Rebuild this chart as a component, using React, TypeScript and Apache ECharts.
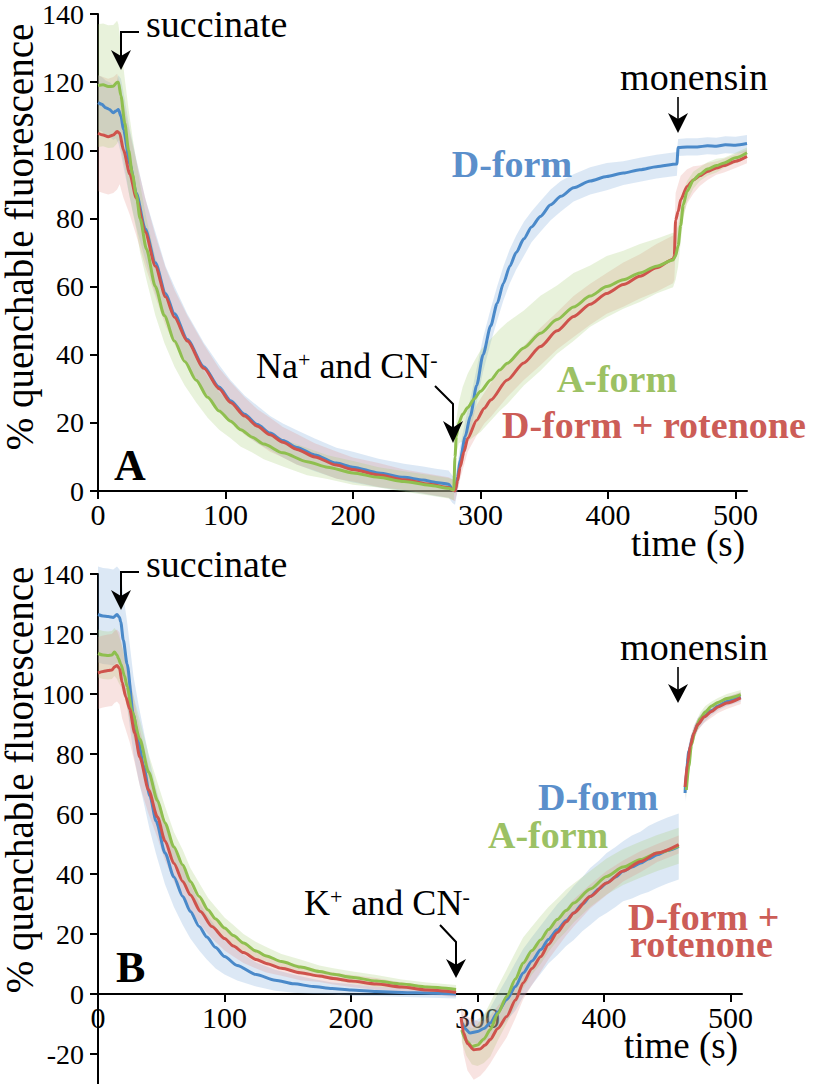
import React, { useEffect, useRef } from "react";
import * as echarts from "echarts";

// Each point: [time (s), % quenchable fluorescence, half-width of the shaded band]
type Pt = [number, number, number];

// ---------- Panel A ----------
const aBlue: Pt[] = [
  [0, 114, 8], [3, 113.5, 8], [6, 112.5, 8], [9, 112, 8], [12, 111, 8], [14, 111.5, 8], [16, 112, 10],
  [18, 110, 11], [20, 106, 11], [25, 96, 10], [30, 87.5, 10], [37, 77, 9], [45, 67, 9], [53, 58, 8],
  [60, 52, 8], [70, 44.5, 7.5], [83, 36.5, 7], [95, 30.5, 6.5], [104, 26.5, 6], [115, 22.5, 5.5],
  [125, 19.5, 5.5], [135, 17, 5], [145, 14.8, 5], [156, 12.8, 5], [170, 10.6, 4.8], [187, 8.2, 4.5],
  [200, 7, 4.5], [220, 5.3, 4.2], [240, 4, 4], [255, 3.2, 4], [265, 2.5, 4], [275, 2, 4], [278, 0.5, 4],
  [280, 0, 4], [282, 4, 4], [284, 9, 4], [288, 16, 4.5], [292, 22, 5], [297, 31, 5], [302, 40, 5],
  [308, 48.5, 5], [313, 55, 5], [318, 61, 5], [323, 66, 5], [328, 70, 5], [334, 74, 5], [340, 77.5, 4.5],
  [347, 80.6, 4.5], [355, 84, 4.5], [363, 86.5, 4.5], [373, 89, 4], [386, 91, 4], [399, 92.3, 4],
  [412, 93.3, 3.5], [425, 94.3, 3.5], [438, 95.2, 3.5], [454, 96, 3.5], [455, 100.8, 2.5], [462, 101, 2.5],
  [470, 101, 2.5], [478, 101.3, 2.5], [485, 101.2, 2.5], [492, 101.6, 2.5], [500, 101.5, 2.5], [509, 102, 2.5],
];
const aGreen: Pt[] = [
  [0, 119, 18], [4, 119.2, 18], [8, 118.7, 18], [12, 118.8, 18], [15, 120, 18], [16, 120, 17],
  [18, 116, 15], [21, 108, 13], [24, 100, 12], [27, 93, 11], [30, 87, 10], [33, 80, 10], [38, 71, 9],
  [45, 60, 8.5], [52, 51.5, 8], [60, 44, 7.5], [68, 38, 7], [77, 32.5, 6.5], [86, 27.5, 6], [95, 23.5, 5.5],
  [104, 20.5, 5], [112, 18, 5], [121, 15.8, 4.5], [130, 13.8, 4.5], [145, 11.2, 4], [164, 8.6, 4],
  [180, 7, 3.5], [200, 5.3, 3.5], [220, 4, 3], [240, 2.8, 3], [260, 1.7, 3], [275, 0.8, 3], [279, 0.3, 3],
  [280, 10, 4], [281, 16, 5], [283, 20, 6], [286, 22.5, 8], [290, 24.5, 10], [295, 27, 11], [300, 29.3, 12],
  [308, 32.6, 12], [315, 35.5, 12], [321, 37.5, 12], [334, 42, 11], [347, 46.3, 11], [360, 50.3, 10],
  [373, 54, 10], [386, 57.2, 9], [399, 60, 9], [412, 62, 8.5], [425, 64, 8.5], [438, 66, 8], [451, 67.8, 8],
  [453, 69, 7], [455, 72, 6], [457, 78, 5], [459, 84, 4], [462, 88, 3], [467, 91.3, 2.5], [472, 93, 2],
  [478, 94.5, 2], [485, 95.5, 2], [491, 96.3, 1.5], [500, 97.8, 1.5], [509, 99.3, 1.5],
];
const aRed: Pt[] = [
  [0, 105, 17], [4, 104.5, 17], [8, 104, 17], [12, 104.5, 17], [15, 105.5, 17], [17, 105, 15],
  [20, 100, 14], [25, 93, 12], [30, 86, 11], [37, 76, 10], [45, 66, 9], [53, 57, 8.5], [60, 51, 8],
  [70, 44, 7.5], [83, 36, 7], [95, 30, 6], [104, 26, 6], [115, 22, 5.5], [125, 19, 5], [135, 16.5, 5],
  [145, 14.3, 4.5], [156, 12.2, 4.5], [170, 10, 4], [187, 7.6, 4], [200, 6.3, 3.5], [220, 4.7, 3.5],
  [240, 3.3, 3], [260, 2, 3], [275, 1, 3], [279, 0.2, 3], [280, 0, 3], [282, 3, 3], [284, 7, 3.5],
  [287, 11.5, 4], [290, 15.5, 4], [297, 20.8, 4.5], [303, 24.3, 4.5], [308, 26.7, 5], [321, 32.6, 5],
  [334, 37.6, 5], [347, 42.4, 5.5], [360, 47, 5.5], [373, 51.2, 6], [386, 54.8, 6], [399, 58, 6],
  [412, 60.6, 6.5], [425, 63, 6.5], [438, 65.5, 7], [451, 68, 7], [452, 69, 7], [453, 79.5, 8],
  [455, 82, 8], [457, 85.5, 7], [462, 89.4, 5], [467, 91.3, 4], [472, 92.5, 3], [478, 93.8, 2.5],
  [485, 94.8, 2], [491, 95.5, 2], [500, 96.8, 2], [509, 98.2, 2],
];

// ---------- Panel B ----------
const bBlue1: Pt[] = [
  [0, 126.5, 16], [4, 126, 16], [8, 125.8, 16], [12, 125.5, 16], [15, 126.5, 16], [17, 125.5, 16],
  [18, 124, 16], [20, 118, 15], [23, 110, 14], [28, 93, 13], [32, 84, 12.5], [36, 76, 12], [41, 66, 11.5],
  [46, 57.5, 11], [53, 47, 10.5], [60, 39, 10], [67, 32.5, 9.5], [73, 27.5, 9], [80, 22.5, 8], [86, 19, 7.5],
  [93, 15.5, 7], [100, 12.5, 6], [110, 9.5, 5], [125, 6.5, 4], [140, 4.6, 3.5], [155, 3.4, 3], [170, 2.5, 2.5],
  [185, 1.8, 2], [200, 1.3, 2], [220, 0.8, 1.5], [250, 0.4, 1.5], [283, 0, 1.5],
];
const bBlue2: Pt[] = [
  [288, -9.7, 3], [290, -11.5, 3], [294, -13, 3.5], [300, -12.5, 4], [305, -11.5, 4.5], [310, -9.7, 5],
  [316, -6, 6], [323, -1.9, 7], [330, 2.5, 8], [336, 7, 8], [343, 11, 8], [350, 14.8, 8], [356, 18.2, 8],
  [363, 21.4, 8.5], [370, 24.5, 8.5], [376, 27, 9], [383, 30, 9], [389, 32.5, 9.5], [396, 35, 9.5],
  [402, 37, 10], [409, 39, 10], [415, 40.9, 10], [422, 42.3, 10.5], [429, 43.7, 10.5], [435, 45, 11],
  [442, 46.4, 11], [450, 47.8, 11], [459, 49.2, 11],
];
const bBlue3: Pt[] = [
  [464, 67, 3], [465, 74, 3], [467, 81, 2.5], [471, 87, 2], [474, 90, 2], [479, 92.5, 2], [485, 94.5, 1.5],
  [490, 96, 1.5], [497, 97.5, 1.5], [508, 99, 1.5],
];
const bGreen1: Pt[] = [
  [0, 113.5, 8], [4, 113, 8], [8, 112.8, 8], [11, 113, 8], [13, 114, 8], [15, 113, 8], [16, 112, 8],
  [18, 110, 7.5], [21, 106, 7], [23, 102.5, 7], [27, 94, 7], [33, 85, 6.5], [40, 74, 6], [47, 64.5, 6],
  [53, 57, 5.5], [60, 49, 5], [67, 43, 5], [73, 37.5, 4.5], [80, 32.5, 4.5], [87, 28, 4], [93, 25, 4],
  [100, 22, 3.5], [107, 19.5, 3.5], [115, 17, 3], [125, 14.3, 3], [133, 12.7, 3], [145, 10.8, 2.5],
  [160, 9, 2.5], [175, 7.5, 2], [186, 6.6, 2], [200, 5.6, 2], [220, 4.3, 2], [240, 3.3, 1.5], [260, 2.3, 1.5],
  [283, 1.5, 1.5],
];
const bGreen2: Pt[] = [
  [287.5, -12, 4], [291, -15.5, 5], [295.6, -17.5, 6], [300, -17, 7], [305, -15, 8], [310, -11.9, 9],
  [316, -6.5, 9], [323, -0.8, 9], [330, 5, 9], [336, 10.3, 8.5], [343, 14.5, 8], [350, 18.1, 8],
  [356, 21.5, 7.5], [363, 24.8, 7], [370, 27.8, 7], [376, 30.3, 6.5], [389, 35, 6], [402, 39.2, 6],
  [415, 42.3, 6], [429, 44.8, 6], [442, 47, 6], [459, 49.4, 6],
];
const bGreen3: Pt[] = [
  [465, 68, 3], [467, 76, 3], [469, 83, 2.5], [472, 88, 2], [476, 91.8, 2], [480, 94, 2], [485, 96, 1.5],
  [490, 97.2, 1.5], [497, 98.5, 1.5], [508, 99.8, 1.5],
];
const bRed1: Pt[] = [
  [0, 107, 12], [4, 107.5, 12], [8, 107.8, 12], [11, 108, 12], [13, 109, 12], [15, 109.5, 12], [17, 108.5, 12],
  [19, 104, 12], [22, 99, 11], [25, 95, 11], [29, 87, 10], [33, 79, 9.5], [40, 68, 8], [47, 59, 7],
  [53, 51, 6.5], [60, 43.5, 6], [67, 37.5, 5.5], [73, 33, 5], [81, 27.5, 4.5], [90, 22.5, 4], [100, 18.5, 4],
  [107, 16, 3.5], [115, 13.8, 3.5], [125, 11.5, 3], [133, 10.2, 3], [145, 8.6, 2.5], [160, 7.1, 2.5],
  [175, 6, 2], [186, 5.2, 2], [200, 4.3, 2], [220, 3.3, 2], [240, 2.3, 1.5], [260, 1.3, 1.5], [283, 0.5, 1.5],
];
const bRed2: Pt[] = [
  [287, -8, 4], [289, -13, 7], [292, -16.5, 9], [297, -18.6, 10], [302, -18.3, 9], [306, -17, 8.5],
  [310, -15.2, 8], [316, -11.5, 7.5], [323, -7.5, 7], [330, -2, 6], [336, 3.7, 5.5], [343, 8.5, 5.5],
  [350, 12.5, 5], [356, 16.5, 5], [363, 20.5, 5], [370, 24, 4.5], [376, 27, 4.5], [389, 32.5, 4],
  [402, 37, 4], [415, 41, 3.5], [429, 44.2, 3.5], [442, 47, 3], [459, 49.8, 3],
];
const bRed3: Pt[] = [
  [464, 69, 4], [466, 77, 3.5], [468, 82.5, 3], [471, 87, 2.5], [474, 89.8, 2], [479, 92.3, 2],
  [485, 94.2, 2], [490, 95.7, 2], [497, 97, 2], [508, 98.7, 2],
];

// Axis settings
const xMin = 0;
const xMax = 509;
const xInterval = 100;
const aYMin = 0;
const aYMax = 140;
const bYMin = -40;
const bYMax = 140;
const yInterval = 20;

const COLORS = {
  blue: { line: "#4a89c9", band: "rgba(110,160,215,0.24)", label: "#5b8fcb" },
  green: { line: "#8fbf4f", band: "rgba(165,205,115,0.26)", label: "#9cc164" },
  red: { line: "#cf534c", band: "rgba(225,140,130,0.24)", label: "#cc5d57" },
};

const FONT = "'Liberation Serif', 'Times New Roman', Times, serif";

// grid geometry (px)
const GRID_A = { left: 98, top: 14, width: 649, height: 477 };
const GRID_B = { left: 98, top: 574, width: 644, height: 540 };
// B x-axis sits on the zero line: move it up from the grid bottom
const bZeroOffset = -(GRID_B.height * (0 - bYMin)) / (bYMax - bYMin);

type SeriesDef = { segs: Pt[][]; color: keyof typeof COLORS };
const panelA: SeriesDef[] = [
  { segs: [aBlue], color: "blue" },
  { segs: [aRed], color: "red" },
  { segs: [aGreen], color: "green" },
];
const panelB: SeriesDef[] = [
  { segs: [bBlue1, bBlue2, bBlue3], color: "blue" },
  { segs: [bGreen1, bGreen2, bGreen3], color: "green" },
  { segs: [bRed1, bRed2, bRed3], color: "red" },
];

function bandSeries(seg: Pt[], fill: string, idx: number) {
  return {
    type: "custom",
    xAxisIndex: idx,
    yAxisIndex: idx,
    silent: true,
    z: 1,
    data: [[seg[0][0], seg[0][1]]],
    renderItem: (_params: any, api: any) => {
      const upper = seg.map((p) => api.coord([p[0], p[1] + p[2]]));
      const lower = seg.map((p) => api.coord([p[0], p[1] - p[2]])).reverse();
      return {
        type: "polygon",
        shape: { points: upper.concat(lower) },
        style: { fill, stroke: "none" },
      };
    },
  };
}

function lineSeries(seg: Pt[], color: string, idx: number, z: number) {
  return {
    type: "line",
    xAxisIndex: idx,
    yAxisIndex: idx,
    silent: true,
    z,
    data: seg.map((p) => [p[0], p[1]]),
    showSymbol: false,
    symbol: "none",
    smooth: 0.25,
    smoothMonotone: "x",
    lineStyle: { color, width: 3 },
  };
}

function buildSeries(defs: SeriesDef[], idx: number) {
  const out: any[] = [];
  defs.forEach((d) => d.segs.forEach((s) => out.push(bandSeries(s, COLORS[d.color].band, idx))));
  defs.forEach((d, k) => d.segs.forEach((s) => out.push(lineSeries(s, COLORS[d.color].line, idx, 3 + k))));
  return out;
}

function xAxis(idx: number, offset: number) {
  return {
    type: "value",
    gridIndex: idx,
    position: "bottom",
    offset,
    min: xMin,
    max: xMax,
    interval: xInterval,
    axisLine: { show: true, onZero: false, lineStyle: { color: "#000", width: 2 } },
    axisTick: { show: true, inside: false, length: 8, lineStyle: { color: "#000", width: 2 } },
    axisLabel: { color: "#000", fontFamily: FONT, fontSize: 30, margin: 8, showMaxLabel: false },
    splitLine: { show: false },
  };
}

function yAxis(idx: number, min: number, max: number, showMin: boolean) {
  return {
    type: "value",
    gridIndex: idx,
    min,
    max,
    interval: yInterval,
    axisLine: { show: true, onZero: false, lineStyle: { color: "#000", width: 2 } },
    axisTick: { show: true, inside: false, length: 8, lineStyle: { color: "#000", width: 2 } },
    axisLabel: { color: "#000", fontFamily: FONT, fontSize: 28, margin: 14, showMinLabel: showMin },
    splitLine: { show: false },
  };
}

function txt(x: number, y: number, text: string, opts: any = {}) {
  const align = opts.align || "left";
  return {
    type: "text",
    x,
    y,
    rotation: opts.rotation || 0,
    z: 50,
    style: {
      text,
      fill: opts.fill || "#000",
      fontSize: opts.fontSize || 36,
      fontFamily: FONT,
      fontWeight: opts.bold ? "bold" : "normal",
      align,
      textAlign: align,
      verticalAlign: "middle",
      textVerticalAlign: "middle",
      rich: opts.rich,
    },
  };
}

function arrowDown(points: number[][], tipX: number, tipY: number, w: number, h: number, lw: number) {
  return [
    { type: "polyline", z: 50, shape: { points }, style: { stroke: "#000", lineWidth: lw, fill: "none" } },
    {
      type: "polygon",
      z: 50,
      shape: {
        points: [
          [tipX - w / 2, tipY - h],
          [tipX, tipY - h * 0.7],
          [tipX + w / 2, tipY - h],
          [tipX, tipY],
        ],
      },
      style: { fill: "#000", stroke: "none" },
    },
  ];
}

const supRich = {
  sup: { fontSize: 22, fontFamily: FONT, fill: "#000", verticalAlign: "top", lineHeight: 36 },
};

export default function App() {
  const ref = useRef<HTMLDivElement>(null);
  useEffect(() => {
    if (!ref.current) return;
    const chart = echarts.init(ref.current, undefined, { renderer: "svg" });
    const graphics: any[] = [
      // y-axis titles
      txt(19, 237, "% quenchable fluorescence", { rotation: Math.PI / 2, align: "center", fontSize: 39 }),
      txt(19, 780, "% quenchable fluorescence", { rotation: Math.PI / 2, align: "center", fontSize: 39 }),
      // x-axis titles
      txt(745, 543, "time (s)", { align: "right", fontSize: 37 }),
      txt(738, 1045, "time (s)", { align: "right", fontSize: 37 }),
      // panel letters
      txt(114, 465, "A", { bold: true, fontSize: 44 }),
      txt(116, 967, "B", { bold: true, fontSize: 44 }),
      // Panel A annotations
      txt(146, 24, "succinate", { fontSize: 38 }),
      txt(694, 77, "monensin", { align: "center", fontSize: 38 }),
      txt(256, 366, "Na{sup|+} and CN{sup|-}", { fontSize: 36, rich: supRich }),
      txt(512, 164, "D-form", { align: "center", bold: true, fontSize: 38, fill: COLORS.blue.label }),
      txt(617, 379, "A-form", { align: "center", bold: true, fontSize: 38, fill: COLORS.green.label }),
      txt(502, 425, "D-form + rotenone", { bold: true, fontSize: 38, fill: COLORS.red.label }),
      // Panel B annotations
      txt(146, 564, "succinate", { fontSize: 38 }),
      txt(694, 647, "monensin", { align: "center", fontSize: 38 }),
      txt(304, 903, "K{sup|+} and CN{sup|-}", { fontSize: 36, rich: supRich }),
      txt(538, 797, "D-form", { bold: true, fontSize: 38, fill: COLORS.blue.label }),
      txt(488, 835, "A-form", { bold: true, fontSize: 38, fill: COLORS.green.label }),
      txt(628, 917, "D-form +", { bold: true, fontSize: 38, fill: COLORS.red.label }),
      txt(630, 944, "rotenone", { bold: true, fontSize: 38, fill: COLORS.red.label }),
      // arrows
      ...arrowDown([[139, 32], [121, 32], [121, 60]], 121, 70, 20, 20, 2),
      ...arrowDown([[678, 97], [678, 124]], 678, 133, 20, 20, 1.6),
      ...arrowDown([[435, 386], [453, 404], [453, 432]], 453, 443, 20, 22, 2),
      ...arrowDown([[139, 572], [121, 572], [121, 600]], 121, 610, 20, 20, 2),
      ...arrowDown([[678, 667], [678, 694]], 678, 703, 20, 19, 1.6),
      ...arrowDown([[440, 925], [456, 942], [456, 968]], 456, 978, 20, 19, 2),
    ];
    chart.setOption({
      animation: false,
      backgroundColor: "#fff",
      grid: [
        { ...GRID_A, containLabel: false, outerBoundsMode: "none" },
        { ...GRID_B, containLabel: false, outerBoundsMode: "none" },
      ],
      xAxis: [xAxis(0, 0), xAxis(1, bZeroOffset)],
      yAxis: [yAxis(0, aYMin, aYMax, true), yAxis(1, bYMin, bYMax, false)],
      series: [...buildSeries(panelA, 0), ...buildSeries(panelB, 1)],
      graphic: graphics,
    });
    return () => chart.dispose();
  }, []);
  return (
    <div
      ref={ref}
      style={{ position: "absolute", left: 0, top: 0, width: 816, height: 1084, overflow: "hidden", background: "#fff" }}
    />
  );
}
